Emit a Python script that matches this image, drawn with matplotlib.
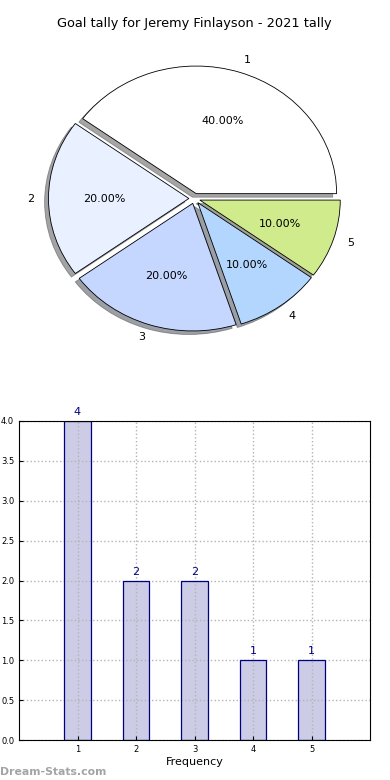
import numpy as np
import matplotlib
matplotlib.use("Agg")
import matplotlib.pyplot as plt

# data
title = "Goal tally for Jeremy Finlayson - 2021 tally"
goals = [1, 2, 3, 4, 5]
freq = [4, 2, 2, 1, 1]
pie_labels = ["1", "2", "3", "4", "5"]
pie_colors = ["#ffffff", "#e9f0ff", "#c5d6ff", "#b3d6ff", "#cfeb8b"]

fig = plt.figure(figsize=(3.9, 7.8), dpi=100)

# pie (old-style: not equal aspect, fixed limits)
ax1 = fig.add_axes([19 / 390, 1 - 358 / 780, 351 / 390, 319 / 780])
wedges, texts, autotexts = ax1.pie(
    freq, labels=pie_labels, colors=pie_colors, explode=[0.04] * len(freq),
    autopct="%1.2f%%", shadow=True, startangle=0,
    wedgeprops=dict(edgecolor="black", linewidth=0.6),
    textprops=dict(fontsize=8))
ax1.set_aspect("auto")
ax1.set_xlim(-1.25, 1.25)
ax1.set_ylim(-1.25, 1.25)
ax1.set_frame_on(False)
ax1.set_title(title, fontsize=9.3, pad=9)

# bar chart: fill under the grid, outline above it
ax2 = fig.add_axes([19 / 390, 1 - 740 / 780, 351 / 390, 319 / 780])
bars = ax2.bar(goals, freq, width=0.45, color="#ccccE6", linewidth=0, zorder=1)
ax2.bar(goals, freq, width=0.45, fill=False, edgecolor="#000080", linewidth=0.9, zorder=3)
for b, v in zip(bars, freq):
    ax2.text(b.get_x() + b.get_width() / 2, v + 0.05, str(v), ha="center", va="bottom",
             fontsize=8, color="#000080")
ax2.set_xlim(0, 6)
ax2.set_ylim(0, 4)
ax2.set_xticks(goals)
ax2.set_yticks(np.arange(0, 4.01, 0.5))
ax2.yaxis.set_major_formatter(matplotlib.ticker.FormatStrFormatter("%.1f"))
ax2.tick_params(labelsize=6, direction="in", length=3)
ax2.set_axisbelow(False)
ax2.grid(True, linestyle=":", color="#b4b4b4", linewidth=1)
for sp in ax2.spines.values():
    sp.set_zorder(3.5)
ax2.set_xlabel("Frequency", fontsize=8, labelpad=2)

fig.text(0.0, 0.004, "Dream-Stats.com", fontsize=7.8, color="#a4a4a4", fontweight="bold",
         ha="left", va="bottom")

fig.savefig("out.png", dpi=100)
